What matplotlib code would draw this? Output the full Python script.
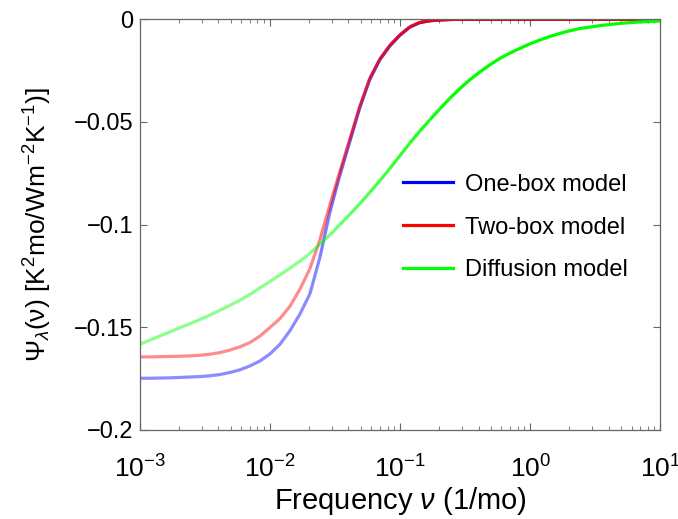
import numpy as np
import matplotlib
matplotlib.use("Agg")
import matplotlib.pyplot as plt
from matplotlib.collections import LineCollection
from matplotlib.lines import Line2D

plt.rcParams['font.family'] = ['Liberation Sans', 'DejaVu Sans']
plt.rcParams['mathtext.fontset'] = 'custom'
plt.rcParams['mathtext.rm'] = 'Liberation Sans'
plt.rcParams['mathtext.it'] = 'Liberation Sans:italic'
plt.rcParams['mathtext.bf'] = 'Liberation Sans:bold'

# ====== Datos ======
freq = [0.001, 0.001193, 0.001424, 0.0017, 0.002029, 0.002421, 0.002889, 0.003448,
        0.004115, 0.004911, 0.005861, 0.006995, 0.008348, 0.009965, 0.01189, 0.01419,
        0.01694, 0.02021, 0.02413, 0.02879, 0.03436, 0.04101, 0.04894, 0.05841,
        0.06971, 0.0832, 0.0993, 0.1185, 0.1414, 0.1688, 0.2014, 0.2404,
        0.2869, 0.3424, 0.4087, 0.4877, 0.5821, 0.6947, 0.8291, 0.9895,
        1.181, 1.409, 1.682, 2.007, 2.395, 3.412, 4.86, 6.921, 10.0]

one_box = [-0.1748, -0.1748, -0.1747, -0.1746, -0.1744, -0.1742, -0.1740, -0.1736,
           -0.1730, -0.1720, -0.1707, -0.1688, -0.1664, -0.1630, -0.1583, -0.1517,
           -0.1436, -0.1338, -0.1160, -0.0940, -0.0760, -0.0595, -0.0430, -0.0292,
           -0.0197, -0.0130, -0.0078, -0.0038, -0.0016, -0.0007, -0.0003, -0.0001,
           0.0, 0.0, 0.0, 0.0, 0.0, 0.0, 0.0, 0.0,
           0.0, 0.0, 0.0, 0.0, 0.0, 0.0, 0.0, 0.0, 0.0]

two_box = [-0.1644, -0.1644, -0.1643, -0.1642, -0.1641, -0.1639, -0.1636, -0.1631,
           -0.1623, -0.1611, -0.1595, -0.1574, -0.1543, -0.1501, -0.1458, -0.1398,
           -0.1315, -0.1215, -0.1075, -0.0905, -0.0742, -0.0583, -0.0424, -0.0287,
           -0.0194, -0.0127, -0.0077, -0.0037, -0.0015, -0.0007, -0.0003, -0.0001,
           0.0, 0.0, 0.0, 0.0, 0.0, 0.0, 0.0, 0.0,
           0.0, 0.0, 0.0, 0.0, 0.0, 0.0, 0.0, 0.0, 0.0]

diffusion = [-0.1582, -0.1562, -0.1542, -0.1522, -0.1502, -0.1482, -0.1462, -0.1440,
             -0.1417, -0.1393, -0.1368, -0.1340, -0.1308, -0.1277, -0.1245, -0.1212,
             -0.1178, -0.1140, -0.1095, -0.1050, -0.1000, -0.0950, -0.0898, -0.0843,
             -0.0786, -0.0727, -0.0665, -0.0603, -0.0545, -0.0490, -0.0437, -0.0385,
             -0.0338, -0.0295, -0.0257, -0.0222, -0.0191, -0.0165, -0.0142, -0.0120,
             -0.0101, -0.0084, -0.0069, -0.0056, -0.0045, -0.0031, -0.0020, -0.0013,
             -0.0008]

series = [("One-box model", one_box, (0, 0, 1)),
          ("Two-box model", two_box, (1, 0, 0)),
          ("Diffusion model", diffusion, (0, 1, 0))]

yticks = [0, -0.05, -0.1, -0.15, -0.2]
yticklabels = ["0", "\u22120.05", "\u22120.1", "\u22120.15", "\u22120.2"]

# ====== Figura ======
fig = plt.figure(figsize=(6.78, 5.19), dpi=100)
ax = fig.add_axes([0.2065, 0.1715, 0.7675, 0.7913])

logf = np.log10(freq)
mid = 0.5 * (logf[:-1] + logf[1:])
# transparencia creciente con la frecuencia
alphas = np.round(np.clip(0.45 + 0.55 * (mid + 1.7) / 1.1, 0.45, 1.0), 3)

lw = 2.3
for nombre, vals, col in series:
    x = np.asarray(freq)
    y = np.asarray(vals)
    bajo = np.where(alphas <= 0.45)[0]
    alto = np.where(alphas >= 1.0)[0]
    rampa = np.where((alphas > 0.45) & (alphas < 1.0))[0]
    # tramo tenue (alpha constante)
    i1 = bajo[-1] + 1
    ax.plot(x[:i1 + 1], y[:i1 + 1], color=col, alpha=0.45, lw=lw,
            solid_capstyle='butt', solid_joinstyle='round')
    # tramo de transicion
    segs = [[(x[i], y[i]), (x[i + 1], y[i + 1])] for i in rampa]
    cols = [(col[0], col[1], col[2], alphas[i]) for i in rampa]
    ax.add_collection(LineCollection(segs, colors=cols, linewidths=lw,
                                     capstyle='butt'))
    # tramo opaco
    i0 = alto[0]
    ax.plot(x[i0:], y[i0:], color=col, lw=lw,
            solid_capstyle='butt', solid_joinstyle='round')

ax.set_xscale('log')
ax.set_xlim(1e-3, 1e1)
ax.set_ylim(-0.2, 0)
ax.set_yticks(yticks)
ax.set_yticklabels(yticklabels)

gris = '#666666'
for s in ax.spines.values():
    s.set_color(gris)
    s.set_linewidth(0.9)
ax.tick_params(which='both', direction='in', top=True, right=True,
               color=gris, labelcolor='black')
ax.tick_params(which='major', length=5)
ax.tick_params(which='minor', length=3)
ax.tick_params(axis='y', labelsize=17, pad=5)
ax.tick_params(axis='x', labelsize=19, pad=18)

ax.set_xlabel(r"Frequency $\mathit{\nu}$ (1/mo)", fontsize=21, labelpad=2)
ax.set_ylabel(r"$\Psi_{\lambda}(\mathrm{\nu})$ [K$^2$mo/Wm$^{-2}$K$^{-1}$)]",
              fontsize=19, labelpad=14)

handles = [Line2D([], [], color=c, lw=lw) for _, _, c in series]
labels = [n for n, _, _ in series]
ax.legend(handles, labels, loc='center left', bbox_to_anchor=(0.464, 0.493),
          frameon=False, fontsize=17, handlelength=2.12, handletextpad=0.5,
          labelspacing=0.88)

fig.savefig("out.png", dpi=100)
